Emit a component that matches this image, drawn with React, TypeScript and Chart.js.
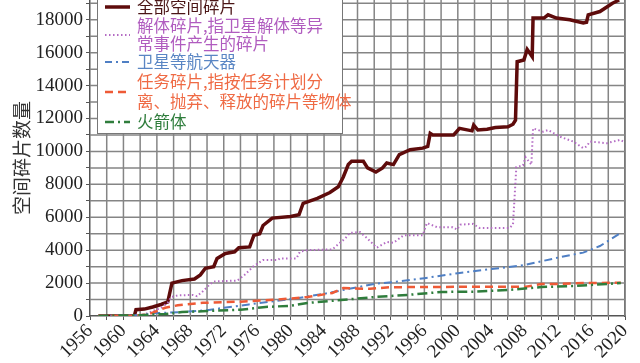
import { useEffect, useRef } from 'react';
import { Chart, registerables } from 'chart.js';
Chart.register(...registerables);

// ---- data ----
const totalYears = [1957, 1961.3, 1961.5, 1962.5, 1963.5, 1964.5, 1965.3, 1965.8, 1967, 1968.5, 1969.2, 1969.8, 1970.8, 1971.2, 1972.2, 1973.3, 1973.8, 1975.1, 1975.6, 1976.3, 1976.7, 1977.8, 1980, 1981, 1981.5, 1983.2, 1984.7, 1985.7, 1986.3, 1986.9, 1987.3, 1988.7, 1989.2, 1990.2, 1991, 1991.5, 1992.3, 1993, 1994.3, 1995.8, 1996.4, 1996.7, 1997, 1999.5, 2000.2, 2001.7, 2001.9, 2002.4, 2003.5, 2004.5, 2006, 2006.6, 2006.9, 2007.1, 2007.9, 2008.3, 2008.9, 2009.0, 2010.3, 2010.8, 2011.8, 2013.4, 2015.0, 2015.4, 2015.6, 2017, 2018.5, 2019.3];
const totalValues = [0, 0, 380, 420, 550, 700, 850, 2000, 2150, 2250, 2500, 2900, 3000, 3500, 3800, 3900, 4150, 4200, 4900, 5000, 5500, 5950, 6050, 6150, 6850, 7150, 7500, 7850, 8450, 9200, 9400, 9400, 9000, 8750, 9000, 9300, 9200, 9800, 10100, 10200, 10300, 11100, 11000, 11000, 11400, 11250, 11600, 11300, 11350, 11450, 11500, 11650, 11900, 15450, 15550, 16200, 15750, 18100, 18100, 18300, 18100, 18000, 17800, 17850, 18300, 18500, 19000, 19200];

const breakupYears = [1957, 1961, 1962.5, 1963.5, 1964.5, 1965.3, 1965.7, 1966.5, 1968.3, 1968.8, 1969.5, 1970.3, 1970.8, 1973.6, 1974.5, 1975.5, 1976.1, 1976.7, 1978.5, 1978.7, 1980.7, 1981.1, 1982, 1985, 1985.9, 1986.5, 1987.1, 1988.3, 1989.1, 1990.3, 1991.5, 1992.3, 1993.5, 1995.8, 1996.3, 1997.5, 1999.4, 1999.9, 2000.3, 2001.8, 2002.6, 2006.2, 2006.6, 2007, 2007.8, 2008.1, 2008.8, 2009, 2010.2, 2010.8, 2012.2, 2013.8, 2015, 2015.4, 2015.8, 2017.8, 2018.6, 2019.4, 2019.8];
const breakupValues = [0, 0, 100, 300, 500, 800, 1150, 1250, 1280, 1200, 1500, 1900, 2100, 2150, 2500, 3000, 3200, 3400, 3400, 3500, 3500, 3900, 4000, 4050, 4450, 4700, 5050, 5100, 4750, 4150, 4500, 4450, 4900, 4900, 5650, 5400, 5400, 5250, 5550, 5600, 5350, 5350, 5550, 9050, 9150, 9650, 9200, 11400, 11200, 11300, 10900, 10600, 10200, 10300, 10600, 10500, 10600, 10700, 10600];

const spacecraftYears = [1957, 1962, 1964, 1967, 1970, 1972, 1975, 1978, 1981, 1984, 1987, 1990, 1993, 1996, 2000, 2004, 2008, 2012, 2015, 2017, 2019.5];
const spacecraftValues = [0, 50, 180, 240, 350, 500, 700, 900, 1100, 1350, 1650, 1950, 2100, 2300, 2600, 2850, 3100, 3550, 3850, 4250, 5050];

const missionYears = [1957, 1961, 1963, 1965, 1966.5, 1969.5, 1974, 1978.5, 1982, 1985, 1986.3, 1989.5, 1992, 2003, 2008, 2010, 2012, 2015, 2019.5];
const missionValues = [0, 0, 100, 500, 650, 800, 870, 1000, 1150, 1400, 1700, 1650, 1750, 1780, 1770, 1940, 1950, 2000, 2020];

const rocketYears = [1957, 1962, 1965, 1967, 1970, 1974, 1977, 1980, 1982, 1986, 1990, 1994, 1998, 2002, 2006, 2010, 2014, 2019.5];
const rocketValues = [0, 50, 120, 240, 300, 380, 550, 620, 790, 970, 1150, 1280, 1460, 1480, 1580, 1760, 1830, 2000];

const yearTickLabels = [1956, 1960, 1964, 1968, 1972, 1976, 1980, 1984, 1988, 1992, 1996, 2000, 2004, 2008, 2012, 2016, 2020];
const valueTickLabels = [0, 2000, 4000, 6000, 8000, 10000, 12000, 14000, 16000, 18000];

const yAxisTitle = '空间碎片数量';
const labelTotal = ['全部空间碎片'];
const labelBreakup = ['解体碎片,指卫星解体等异', '常事件产生的碎片'];
const labelSpacecraft = ['卫星等航天器'];
const labelMission = ['任务碎片,指按任务计划分', '离、抛弃、释放的碎片等物体'];
const labelRocket = ['火箭体'];

const pts = (xs: number[], ys: number[]) => xs.map((x, i) => ({ x, y: ys[i] }));

const C_TOTAL = '#5e0b0b';
const C_BREAKUP = '#b46cc4';
const C_SPACE = '#4f7fc4';
const C_MISSION = '#ee5a36';
const C_ROCKET = '#2f7d3c';
const GRID = '#858585';
const SERIF = '"Liberation Serif", "Times New Roman", Times, serif';

const legendRows = [
  { lines: labelTotal, color: C_TOTAL, text: '#4a1515', dash: [] as number[], width: 3.5 },
  { lines: labelBreakup, color: C_BREAKUP, text: '#b05cbf', dash: [1.5, 2.5], width: 1.8 },
  { lines: labelSpacecraft, color: C_SPACE, text: '#5a86c4', dash: [7, 4, 2, 4], width: 2 },
  { lines: labelMission, color: C_MISSION, text: '#ef6a44', dash: [8, 5], width: 2.5 },
  { lines: labelRocket, color: C_ROCKET, text: '#2f7d3c', dash: [9, 4, 2, 4], width: 2.5 },
];

function drawGrid(chart: any) {
  const ctx = chart.ctx as CanvasRenderingContext2D;
  const area = chart.chartArea;
  if (!area) return;
  const { left, right, top, bottom } = area;
  const xs = chart.scales.x, ys = chart.scales.y;
  ctx.save();
  ctx.strokeStyle = GRID;
  ctx.lineWidth = 1.5;
  ctx.setLineDash([]);
  for (let v = 1958; v <= 2020; v += 2) {
    const px = xs.getPixelForValue(v);
    ctx.beginPath();
    ctx.moveTo(px, top);
    ctx.lineTo(px, bottom);
    ctx.stroke();
  }
  for (let v = 1000; v <= 19000; v += 1000) {
    const py = ys.getPixelForValue(v);
    ctx.beginPath();
    ctx.moveTo(left, py);
    ctx.lineTo(right, py);
    ctx.stroke();
  }
  ctx.restore();
}

const gridPlugin = {
  id: 'gridPlugin',
  beforeDatasetsDraw(chart: any) { drawGrid(chart); },
};

const overlay = {
  id: 'overlay',
  afterDraw(chart: any) {
    const ctx = chart.ctx as CanvasRenderingContext2D;
    const { left, top, bottom } = chart.chartArea;
    ctx.save();
    // y title
    ctx.save();
    ctx.translate(22, (top + bottom) / 2);
    ctx.rotate(-Math.PI / 2);
    ctx.textAlign = 'center';
    ctx.textBaseline = 'middle';
    ctx.fillStyle = '#333';
    ctx.font = '19px "Noto Sans CJK SC"';
    ctx.fillText(yAxisTitle, 0, 0);
    ctx.restore();
    // legend
    const bx = left + 7, by = -1, bw = 245, bh = 134;
    ctx.fillStyle = '#fff';
    ctx.fillRect(bx, by, bw, bh);
    ctx.strokeStyle = '#777';
    ctx.lineWidth = 1;
    ctx.strokeRect(bx + 0.5, by + 0.5, bw, bh);
    ctx.font = '16.5px "Noto Sans CJK SC"';
    ctx.textBaseline = 'middle';
    ctx.textAlign = 'left';
    const rowYs = [[7], [26, 44], [62], [82, 102], [122]];
    legendRows.forEach((r, i) => {
      const ys = rowYs[i];
      const ly = (ys[0] + ys[ys.length - 1]) / 2;
      ctx.strokeStyle = r.color;
      ctx.lineWidth = r.width;
      ctx.setLineDash(r.dash);
      ctx.beginPath();
      ctx.moveTo(left + 15, ly);
      ctx.lineTo(left + 40, ly);
      ctx.stroke();
      ctx.setLineDash([]);
      ctx.fillStyle = r.text;
      r.lines.forEach((t, j) => ctx.fillText(t, left + 47, ys[j]));
    });
    ctx.restore();
  },
};

export default function App() {
  const ref = useRef<HTMLCanvasElement>(null);
  useEffect(() => {
    const chart = new Chart(ref.current!, {
      type: 'line',
      data: {
        datasets: [
          { label: labelRocket.join(''), data: pts(rocketYears, rocketValues), borderColor: C_ROCKET, borderWidth: 2.5, borderDash: [10, 4, 2, 4], pointRadius: 0, fill: false },
          { label: labelMission.join(''), data: pts(missionYears, missionValues), borderColor: C_MISSION, borderWidth: 2.5, borderDash: [8, 5], pointRadius: 0, fill: false },
          { label: labelSpacecraft.join(''), data: pts(spacecraftYears, spacecraftValues), borderColor: C_SPACE, borderWidth: 2, borderDash: [8, 4, 2, 4], pointRadius: 0, fill: false },
          { label: labelBreakup.join(''), data: pts(breakupYears, breakupValues), borderColor: C_BREAKUP, borderWidth: 2, borderDash: [1.5, 2.5], pointRadius: 0, fill: false },
          { label: labelTotal.join(''), data: pts(totalYears, totalValues), borderColor: C_TOTAL, borderWidth: 3.5, pointRadius: 0, fill: false },
        ],
      },
      options: {
        animation: false,
        responsive: true,
        maintainAspectRatio: false,
        layout: { padding: { left: 0, right: 15, top: 0, bottom: 0 } },
        plugins: { legend: { display: false }, tooltip: { enabled: false } },
        scales: {
          x: {
            type: 'linear',
            min: 1956,
            max: 2020,
            afterBuildTicks: (s: any) => {
              const t = [];
              for (let v = 1956; v <= 2020; v += 2) t.push({ value: v });
              s.ticks = t;
            },
            afterFit: (s: any) => { s.height = 47; s.paddingLeft = 0; s.paddingRight = 0; },
            ticks: {
              autoSkip: false,
              minRotation: 45,
              maxRotation: 45,
              padding: 0,
              color: '#222',
              font: { family: SERIF, size: 19 },
              callback: (v: any) => (yearTickLabels.includes(Number(v)) ? String(v) : ''),
            },
            grid: { display: true, drawOnChartArea: false, color: '#555', lineWidth: 1, tickLength: 4 },
            border: { color: '#555', width: 1.5 },
          },
          y: {
            type: 'linear',
            min: 0,
            max: 19200,
            afterBuildTicks: (s: any) => {
              const t = [];
              for (let v = 0; v <= 19000; v += 1000) t.push({ value: v });
              s.ticks = t;
            },
            afterFit: (s: any) => { s.width = 90; s.paddingTop = 0; s.paddingBottom = 0; },
            ticks: {
              autoSkip: false,
              padding: 3,
              color: '#222',
              font: { family: SERIF, size: 19 },
              callback: (v: any) => (valueTickLabels.includes(Number(v)) ? String(v) : ''),
            },
            grid: { display: true, drawOnChartArea: false, color: '#555', lineWidth: 1, tickLength: 4 },
            border: { color: '#555', width: 1.5 },
          },
          y2: {
            type: 'linear',
            position: 'right',
            min: 0,
            max: 19200,
            ticks: { display: false },
            grid: { display: false },
            border: { color: '#555', width: 1.5 },
            afterFit: (s: any) => { s.width = 0; s.paddingTop = 0; s.paddingBottom = 0; },
          },
        },
      },
      plugins: [gridPlugin, overlay],
    } as any);
    return () => chart.destroy();
  }, []);
  return (
    <div style={{ position: 'fixed', left: 0, top: 0, width: 640, height: 363, background: '#fff' }}>
      <canvas ref={ref} />
    </div>
  );
}
